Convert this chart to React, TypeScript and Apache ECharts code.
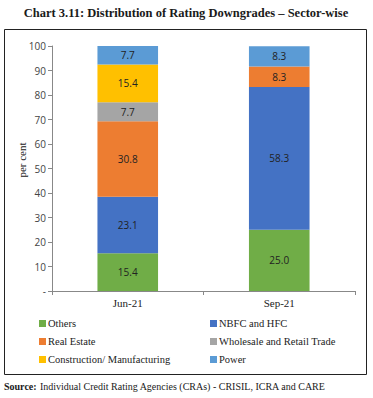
import React, { useEffect, useRef } from "react";
import * as echarts from "echarts";

const categories = ["Jun-21", "Sep-21"];
const seriesNames = [
  "Others",
  "NBFC and HFC",
  "Real Estate",
  "Wholesale and Retail Trade",
  "Construction/ Manufacturing",
  "Power",
];
const others = [15.4, 25.0];
const nbfc = [23.1, 58.3];
const realEstate = [30.8, 8.3];
const wholesale = [7.7, 0];
const construction = [15.4, 0];
const power = [7.7, 8.3];
const colors = ["#70AD47", "#4472C4", "#ED7D31", "#A5A5A5", "#FFC000", "#5B9BD5"];

export default function App() {
  const ref = useRef<HTMLDivElement>(null);
  useEffect(() => {
    document.body.style.margin = "0";
    const chart = echarts.init(ref.current!, null, { renderer: "svg" });
    const values = [others, nbfc, realEstate, wholesale, construction, power];
    const serif = "'Liberation Serif', 'DejaVu Serif', serif";
    const sans = "'Open Sans', 'Liberation Sans', sans-serif";
    const legendCommon = {
      orient: "vertical",
      top: 313,
      itemWidth: 7,
      itemHeight: 7,
      itemGap: 7,
      icon: "rect",
      textStyle: { fontFamily: serif, fontSize: 10.5, color: "#222", padding: [0, 0, 0, -3] },
    };
    chart.setOption({
      animation: false,
      backgroundColor: "#ffffff",
      graphic: [
        {
          type: "rect",
          shape: { x: 4.5, y: 29.5, width: 362, height: 345 },
          style: { fill: "none", stroke: "#222", lineWidth: 1 },
          silent: true,
        },
        {
          type: "text",
          x: 186,
          y: 13,
          style: {
            text: "Chart 3.11: Distribution of Rating Downgrades – Sector-wise",
            font: "bold 12.5px " + serif,
            fill: "#1a1a1a",
            align: "center",
            verticalAlign: "middle",
          },
        },
        {
          type: "text",
          x: 22,
          y: 160,
          rotation: Math.PI / 2,
          style: {
            text: "per cent",
            font: "11px " + serif,
            fill: "#222",
            align: "center",
            verticalAlign: "middle",
          },
        },
        {
          type: "text",
          x: 4,
          y: 386,
          style: {
            rich: {
              b: { font: "bold 10px " + serif, fill: "#1a1a1a" },
              n: { font: "10px " + serif, fill: "#1a1a1a" },
            },
            text: "{b|Source:} {n|Individual Credit Rating Agencies (CRAs) - CRISIL, ICRA and CARE}",
            verticalAlign: "middle",
          },
        },
      ],
      grid: { left: 52, right: 18, top: 46, bottom: 107 },
      xAxis: {
        type: "category",
        data: categories,
        axisLine: { lineStyle: { color: "#888" } },
        axisTick: { show: true, alignWithLabel: false, length: 4, lineStyle: { color: "#888" } },
        axisLabel: { fontFamily: serif, fontSize: 11, color: "#222", margin: 6 },
      },
      yAxis: {
        type: "value",
        min: 0,
        max: 100,
        interval: 10,
        splitLine: { show: false },
        axisLine: { show: true, lineStyle: { color: "#888" } },
        axisTick: { show: true, length: 4, lineStyle: { color: "#888" } },
        axisLabel: {
          fontFamily: sans,
          fontSize: 10,
          color: "#444",
          margin: 6,
          formatter: (v: number) => (v === 0 ? "-" : String(v)),
        },
      },
      legend: [
        { ...legendCommon, left: 34, data: [seriesNames[0], seriesNames[2], seriesNames[4]] },
        { ...legendCommon, left: 205, data: [seriesNames[1], seriesNames[3], seriesNames[5]] },
      ],
      series: seriesNames.map((name, i) => ({
        name,
        type: "bar",
        stack: "total",
        data: values[i],
        barWidth: "40%",
        itemStyle: { color: colors[i] },
        label: {
          show: true,
          position: "inside",
          fontFamily: sans,
          fontSize: 10,
          color: "#222",
          formatter: (p: any) => (p.value === 0 ? "" : Number(p.value).toFixed(1)),
        },
      })),
    });
    return () => chart.dispose();
  }, []);
  return <div ref={ref} style={{ width: 373, height: 398 }} />;
}
